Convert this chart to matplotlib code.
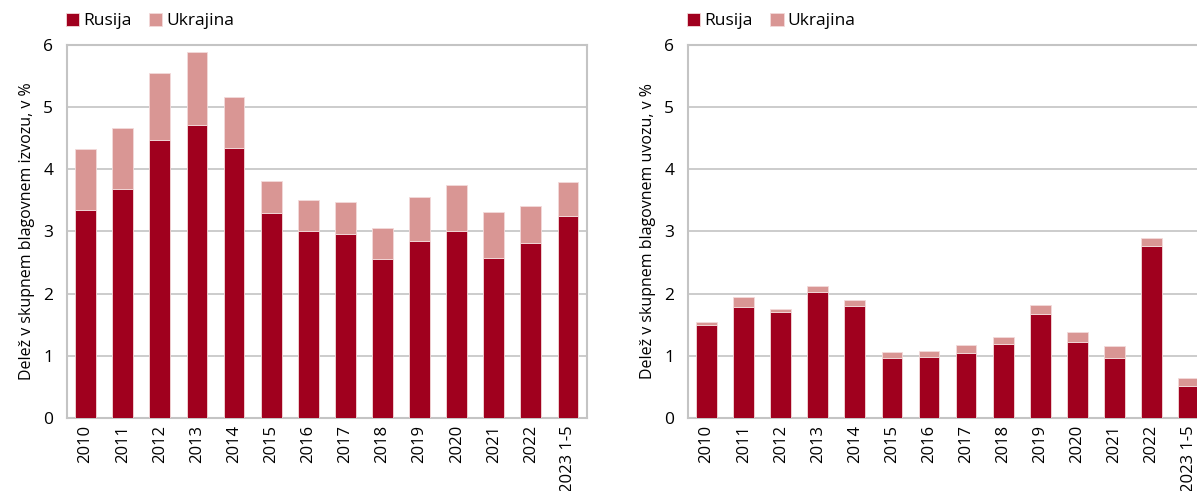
import numpy as np
import matplotlib
matplotlib.use("Agg")
import matplotlib.pyplot as plt

plt.rcParams['font.family'] = ['Open Sans', 'DejaVu Sans']

years = ['2010', '2011', '2012', '2013', '2014', '2015', '2016', '2017',
         '2018', '2019', '2020', '2021', '2022', '2023 1-5']

# export shares (left panel)
izvoz_rusija = [3.35, 3.68, 4.47, 4.72, 4.35, 3.30, 3.01, 2.96, 2.56, 2.85, 3.00, 2.58, 2.82, 3.25]
izvoz_skupaj = [4.32, 4.66, 5.55, 5.89, 5.17, 3.81, 3.50, 3.48, 3.06, 3.56, 3.75, 3.31, 3.41, 3.80]

# import shares (right panel)
uvoz_rusija = [1.50, 1.79, 1.71, 2.03, 1.80, 0.97, 0.98, 1.05, 1.19, 1.68, 1.22, 0.96, 2.76, 0.51]
uvoz_skupaj = [1.55, 1.94, 1.76, 2.12, 1.89, 1.06, 1.07, 1.17, 1.30, 1.81, 1.39, 1.15, 2.90, 0.65]

c_rus = '#A0001E'
c_ukr = '#D99694'
c_grid = '#C4C4C4'

fig = plt.figure(figsize=(11.97, 4.91), dpi=100)
ax1 = fig.add_axes([0.056, 0.1487, 0.434, 0.7597])
ax2 = fig.add_axes([0.5748, 0.1487, 0.4336, 0.7597])


def draw_panel(ax, rus, total, ylabel, show_right):
    x = np.arange(len(years))
    rus = np.array(rus)
    ukr = np.array(total) - rus
    ax.bar(x, rus, width=0.56, color=c_rus, edgecolor='#F3DADA', linewidth=0.6,
           label='Rusija', zorder=3)
    ax.bar(x, ukr, bottom=rus, width=0.56, color=c_ukr, edgecolor='#F3DADA',
           linewidth=0.6, label='Ukrajina', zorder=3)
    ax.set_xlim(-0.5, len(years) - 0.5)
    ax.set_ylim(0, 6)
    ax.set_yticks(range(7))
    ax.set_xticks(x)
    ax.set_xticklabels(years, rotation=90, fontsize=12)
    ax.tick_params(axis='y', labelsize=12.5, length=0, pad=10)
    ax.tick_params(axis='x', length=0, pad=5)
    ax.grid(axis='y', color=c_grid, linewidth=1.2, zorder=0)
    for side in ['left', 'top', 'bottom', 'right']:
        ax.spines[side].set_color(c_grid)
        ax.spines[side].set_linewidth(1.5)
    ax.spines['right'].set_visible(show_right)
    ax.set_ylabel(ylabel, fontsize=11.5, labelpad=6)
    ax.legend(loc='lower left', bbox_to_anchor=(-0.033, 1.0), ncol=2, frameon=False,
              fontsize=12.5, handlelength=0.8, handleheight=0.8, handletextpad=0.2,
              columnspacing=1.0, borderaxespad=0.5)


draw_panel(ax1, izvoz_rusija, izvoz_skupaj, 'Delež v skupnem blagovnem izvozu, v %', True)
draw_panel(ax2, uvoz_rusija, uvoz_skupaj, 'Delež v skupnem blagovnem uvozu, v %', False)

fig.savefig('out.png', dpi=100)
